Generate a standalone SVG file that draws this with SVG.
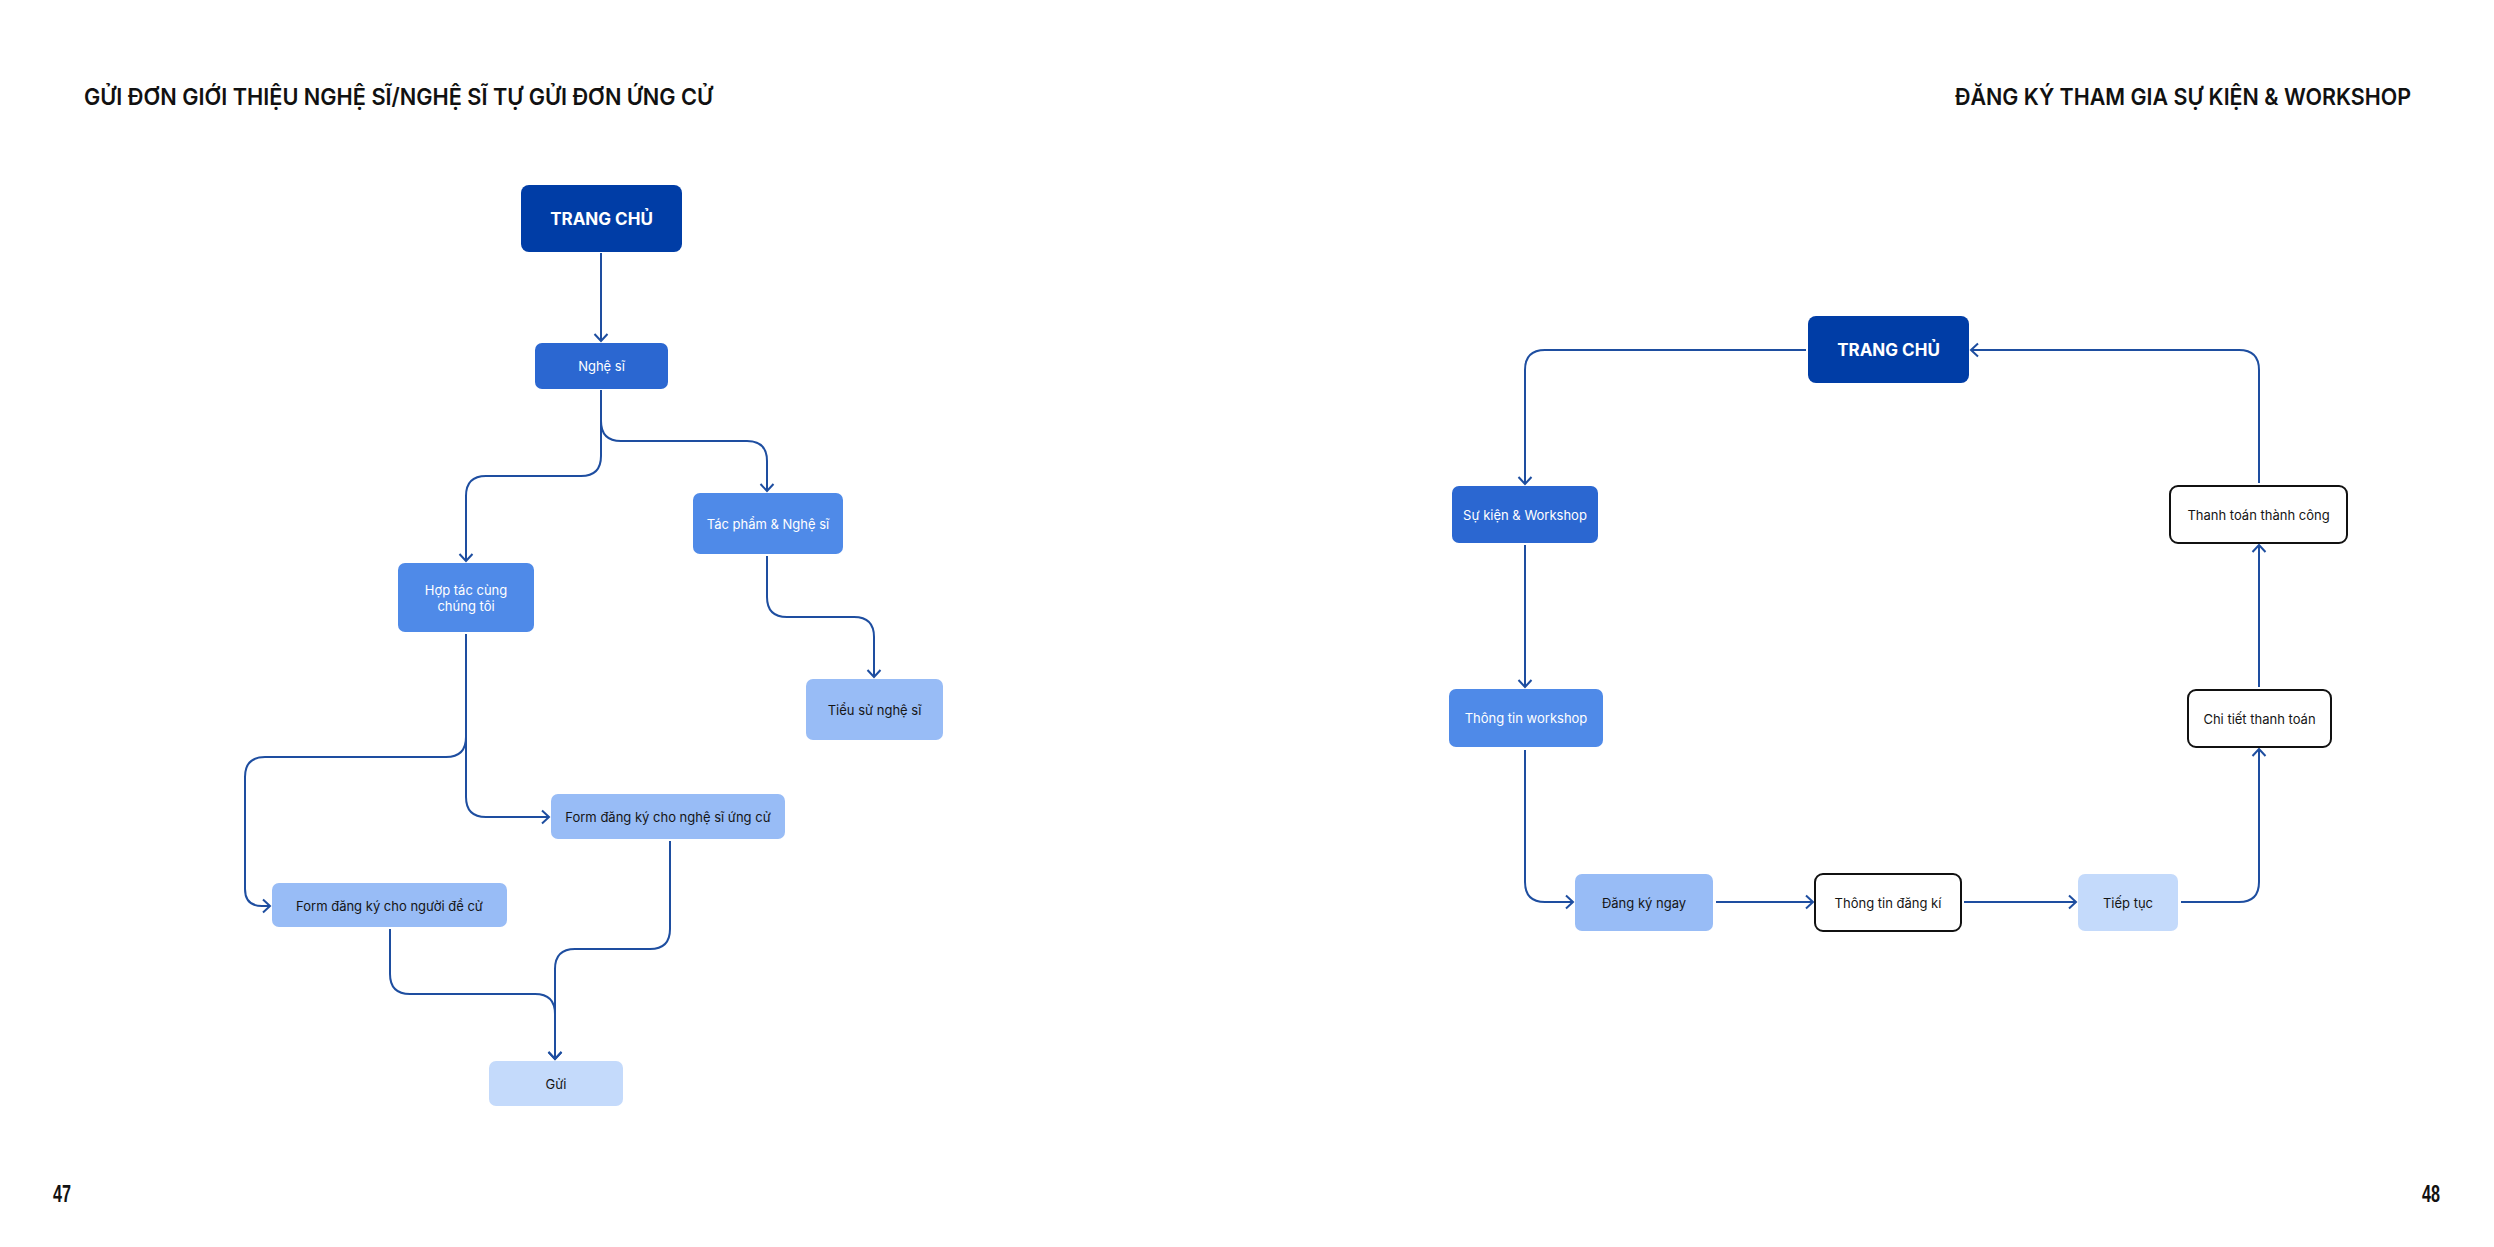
<svg xmlns="http://www.w3.org/2000/svg" width="2494" height="1247" viewBox="0 0 2494 1247">
<defs>
<style>
.title{font-family:Inter,"Liberation Sans",sans-serif;font-weight:600;font-size:23px;fill:#111}
.pg{font-family:"Liberation Sans",sans-serif;font-weight:700;font-size:24px;fill:#111}
.lbl{font-family:Inter,"Noto Sans","Liberation Sans",sans-serif;font-size:13px;text-anchor:middle;dominant-baseline:central}
.w{fill:#ffffff}
.d{fill:#151515}
.big{font-size:17px;font-weight:700}
.c0{fill:#003DA6}
.c1{fill:#2B67D1}
.c2{fill:#4F8AE8}
.c3{fill:#98BCF6}
.c4{fill:#C4DAFB}
.cw{fill:#ffffff;stroke:#111;stroke-width:2}
.con path{fill:none;stroke:#1E4EA0;stroke-width:2;marker-end:url(#arr)}
</style>
<marker id="arr" markerUnits="userSpaceOnUse" markerWidth="20" markerHeight="20" refX="10" refY="10" orient="auto" viewBox="0 0 20 20">
<path d="M3,3.5 L10,10 L3,16.5" fill="none" stroke="#1E4EA0" stroke-width="2"/>
</marker>
</defs>
<rect width="2494" height="1247" fill="#ffffff"/>

<text class="title" x="84" y="105" textLength="629" lengthAdjust="spacingAndGlyphs">GỬI ĐƠN GIỚI THIỆU NGHỆ SĨ/NGHỆ SĨ TỰ GỬI ĐƠN ỨNG CỬ</text>
<text class="title" x="1955" y="105" textLength="456" lengthAdjust="spacingAndGlyphs">ĐĂNG KÝ THAM GIA SỰ KIỆN &amp; WORKSHOP</text>
<text class="pg" x="53" y="1202" textLength="18" lengthAdjust="spacingAndGlyphs">47</text>
<text class="pg" x="2422" y="1202" textLength="18" lengthAdjust="spacingAndGlyphs">48</text>

<g id="connectors" class="con">
<path d="M601 253 V341"/>
<path d="M601 390 V456 Q601 476 581 476 H486 Q466 476 466 496 V561"/>
<path d="M601 390 V421 Q601 441 621 441 H747 Q767 441 767 461 V491"/>
<path d="M767 556 V597 Q767 617 787 617 H854 Q874 617 874 637 V677"/>
<path d="M466 634 V797 Q466 817 486 817 H549"/>
<path d="M466 634 V737 Q466 757 446 757 H265 Q245 757 245 777 V889 Q245 906 262 906 H270"/>
<path d="M390 929 V974 Q390 994 410 994 H535 Q555 994 555 1014 V1059"/>
<path d="M670 841 V929 Q670 949 650 949 H575 Q555 949 555 969 V1059"/>

<path d="M1806 350 H1545 Q1525 350 1525 370 V484"/>
<path d="M1525 545 V687"/>
<path d="M1525 750 V882 Q1525 902 1545 902 H1573"/>
<path d="M1716 902 H1813"/>
<path d="M1964 902 H2076"/>
<path d="M2181 902 H2239 Q2259 902 2259 882 V749"/>
<path d="M2259 687 V545"/>
<path d="M2259 483 V370 Q2259 350 2239 350 H1971"/>
</g>

<g id="l-trangchu"><rect class="c0" x="521" y="185" width="161" height="67" rx="8"/><text class="lbl w big" x="601.5" y="218.5">TRANG CHỦ</text></g>
<g id="l-nghesi"><rect class="c1" x="535" y="343" width="133" height="46" rx="7"/><text class="lbl w" x="601.5" y="366">Nghệ sĩ</text></g>
<g id="l-hoptac"><rect class="c2" x="398" y="563" width="136" height="69" rx="7"/><text class="lbl w" x="466" y="590">Hợp tác cùng</text><text class="lbl w" x="466" y="606">chúng tôi</text></g>
<g id="l-tacpham"><rect class="c2" x="693" y="493" width="150" height="61" rx="7"/><text class="lbl w" x="768" y="523.5">Tác phẩm &amp; Nghệ sĩ</text></g>
<g id="l-tieusu"><rect class="c3" x="806" y="679" width="137" height="61" rx="7"/><text class="lbl d" x="874.5" y="710">Tiểu sử nghệ sĩ</text></g>
<g id="l-formnghesi"><rect class="c3" x="551" y="794" width="234" height="45" rx="7"/><text class="lbl d" x="668" y="816.5">Form đăng ký cho nghệ sĩ ứng cử</text></g>
<g id="l-formdecu"><rect class="c3" x="272" y="883" width="235" height="44" rx="7"/><text class="lbl d" x="389.5" y="905.5">Form đăng ký cho người đề cử</text></g>
<g id="l-gui"><rect class="c4" x="489" y="1061" width="134" height="45" rx="7"/><text class="lbl d" x="556" y="1083.5">Gửi</text></g>

<g id="r-trangchu"><rect class="c0" x="1808" y="316" width="161" height="67" rx="8"/><text class="lbl w big" x="1888.5" y="350">TRANG CHỦ</text></g>
<g id="r-sukien"><rect class="c1" x="1452" y="486" width="146" height="57" rx="7"/><text class="lbl w" x="1525" y="514.5">Sự kiện &amp; Workshop</text></g>
<g id="r-thongtinws"><rect class="c2" x="1449" y="689" width="154" height="58" rx="7"/><text class="lbl w" x="1526" y="718">Thông tin workshop</text></g>
<g id="r-dangky"><rect class="c3" x="1575" y="874" width="138" height="57" rx="7"/><text class="lbl d" x="1644" y="902.5">Đăng ký ngay</text></g>
<g id="r-thongtindk"><rect class="cw" x="1815" y="874" width="146" height="57" rx="8"/><text class="lbl d" x="1888" y="902.5">Thông tin đăng kí</text></g>
<g id="r-tieptuc"><rect class="c4" x="2078" y="874" width="100" height="57" rx="7"/><text class="lbl d" x="2128" y="902.5">Tiếp tục</text></g>
<g id="r-chitiet"><rect class="cw" x="2188" y="690" width="143" height="57" rx="8"/><text class="lbl d" x="2259.5" y="718.5">Chi tiết thanh toán</text></g>
<g id="r-thanhtoan"><rect class="cw" x="2170" y="486" width="177" height="57" rx="8"/><text class="lbl d" x="2258.5" y="514.5">Thanh toán thành công</text></g>
</svg>
